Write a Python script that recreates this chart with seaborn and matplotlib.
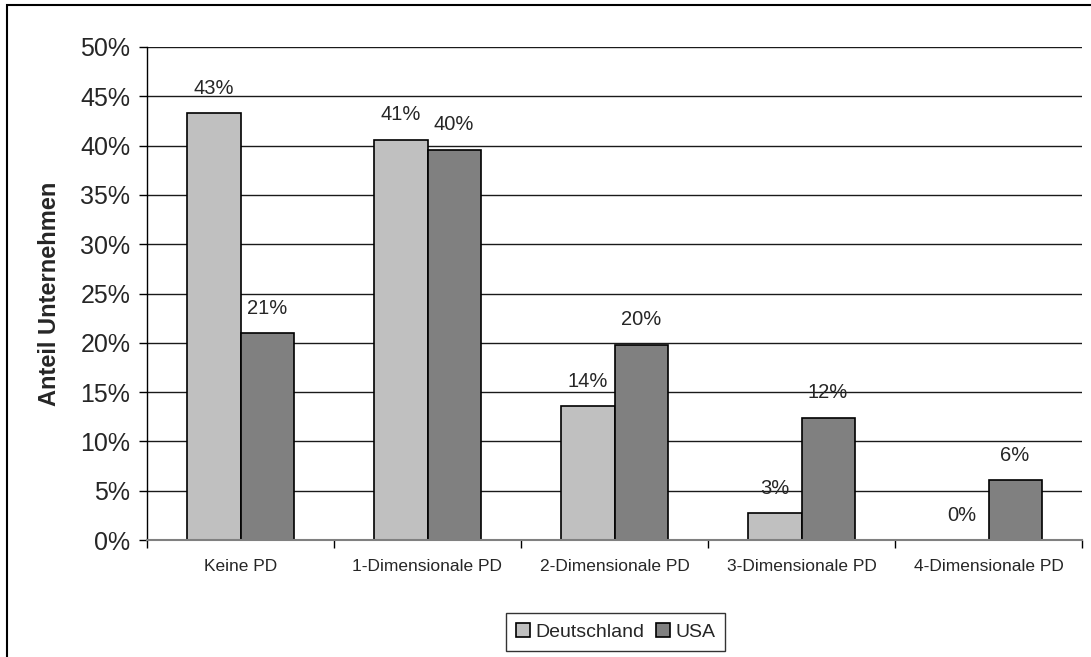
import matplotlib
matplotlib.use("Agg")
import matplotlib.pyplot as plt
from matplotlib.patches import Rectangle
from matplotlib.ticker import FixedLocator, PercentFormatter
import numpy as np
import pandas as pd
import seaborn as sns

categories = ["Keine PD", "1-Dimensionale PD", "2-Dimensionale PD",
              "3-Dimensionale PD", "4-Dimensionale PD"]
deutschland = [43.3, 40.6, 13.6, 2.7, 0.0]
usa = [21.0, 39.6, 19.8, 12.4, 6.1]
series_names = ["Deutschland", "USA"]
y_ticks = [0, 5, 10, 15, 20, 25, 30, 35, 40, 45, 50]

df = pd.DataFrame({
    "Kategorie": categories * 2,
    "Land": [series_names[0]] * len(categories) + [series_names[1]] * len(categories),
    "Anteil": deutschland + usa,
})

sns.set_style("white")
plt.rcParams["font.family"] = ["Liberation Sans", "DejaVu Sans"]

W, H = 1091, 657
fig = plt.figure(figsize=(W / 100, H / 100), dpi=100)
ax = fig.add_axes([147 / W, (H - 540) / H, (1082 - 147) / W, (540 - 47) / H])

sns.barplot(data=df, x="Kategorie", y="Anteil", hue="Land", order=categories,
            hue_order=series_names, palette=["#c0c0c0", "#808080"],
            width=0.567, gap=0, edgecolor="black", linewidth=1.2,
            saturation=1, ax=ax, legend=True)

ax.set_ylim(0, 50)
ax.set_xlim(-0.5, len(categories) - 0.5)
ax.yaxis.set_major_locator(FixedLocator(y_ticks))
ax.yaxis.set_major_formatter(PercentFormatter(decimals=0))
ax.grid(axis="y", color="#1a1a1a", linewidth=1.0)
ax.set_axisbelow(True)

for side in ["top", "right"]:
    ax.spines[side].set_visible(False)
ax.spines["left"].set_color("black")
ax.spines["left"].set_linewidth(1.0)
ax.spines["bottom"].set_color("#808080")
ax.spines["bottom"].set_linewidth(1.5)

ax.tick_params(axis="y", which="major", left=True, length=6, width=1.0,
               color="black", labelsize=18, pad=6)
ax.tick_params(axis="x", which="major", length=0, labelsize=12.5, pad=14)
ax.xaxis.set_minor_locator(FixedLocator(np.arange(-0.5, len(categories), 1.0)))
ax.tick_params(axis="x", which="minor", bottom=True, length=6, width=1.0,
               color="black")

ax.set_xlabel("")
ax.set_ylabel("Anteil Unternehmen", fontsize=17, fontweight="bold", labelpad=14)

for container in ax.containers:
    ax.bar_label(container, labels=[f"{v:.0f}%" for v in container.datavalues],
                 padding=11, fontsize=14.5)

handles, labels = ax.get_legend_handles_labels()
ax.get_legend().remove()
leg = fig.legend(handles, labels, loc="center", bbox_to_anchor=(616 / W, (H - 632) / H),
                 ncol=2, fontsize=14, frameon=True, fancybox=False, edgecolor="black",
                 handlelength=0.7, handleheight=0.7, handletextpad=0.3,
                 columnspacing=0.6, borderpad=0.5)
leg.get_frame().set_linewidth(1.0)

fig.patches.append(Rectangle((7 / W, -0.02), 1.05, 1.02 - 5 / H,
                             transform=fig.transFigure, fill=False,
                             edgecolor="black", linewidth=1.5, clip_on=False))

fig.savefig("out.png", dpi=100)
